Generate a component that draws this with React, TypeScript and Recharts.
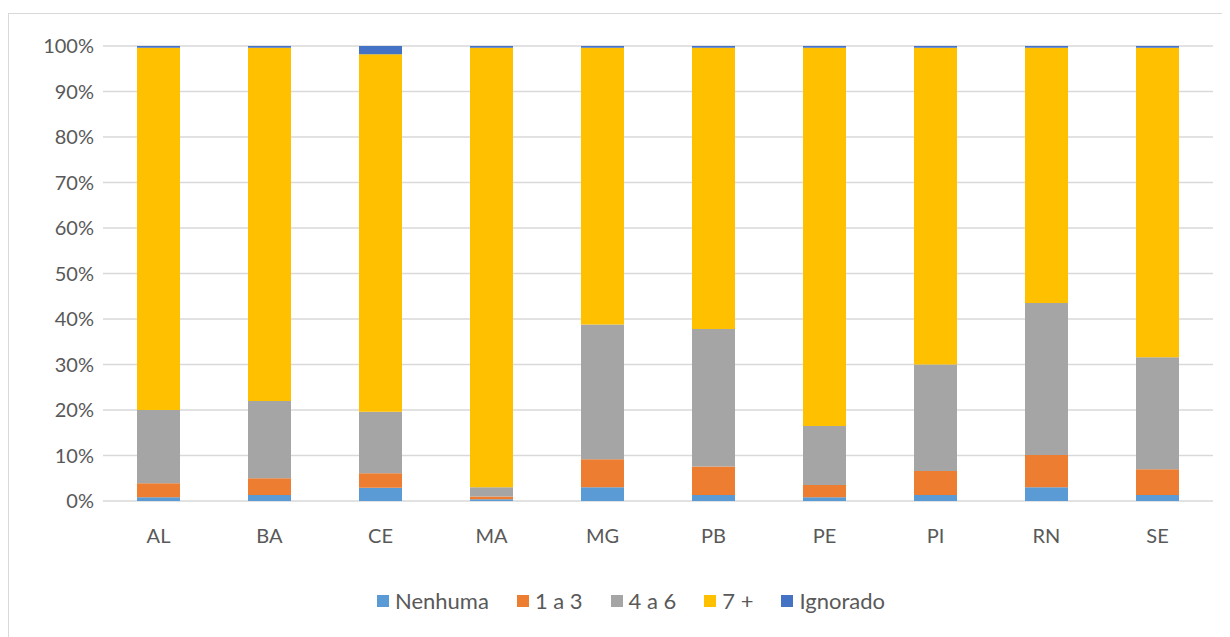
import React from 'react'
import { BarChart, Bar, XAxis, YAxis, CartesianGrid, Legend } from 'recharts'

const states = ['AL', 'BA', 'CE', 'MA', 'MG', 'PB', 'PE', 'PI', 'RN', 'SE']
const nenhuma = [0.8, 1.3, 2.9, 0.4, 3.0, 1.3, 0.8, 1.3, 3.0, 1.3]
const umATres = [3.1, 3.7, 3.2, 0.6, 6.2, 6.3, 2.7, 5.3, 7.1, 5.7]
const quatroASeis = [16.1, 17.0, 13.5, 2.0, 29.6, 30.2, 13.0, 23.4, 33.4, 24.6]
const seteMais = [79.6, 77.6, 78.6, 96.6, 60.8, 61.8, 83.1, 69.6, 56.1, 68.0]
const ignorado = [0.4, 0.4, 1.8, 0.4, 0.4, 0.4, 0.4, 0.4, 0.4, 0.4]
const yTicks = [0, 10, 20, 30, 40, 50, 60, 70, 80, 90, 100]

const series = [
  { key: 'nenhuma', name: 'Nenhuma', color: '#5B9BD5' },
  { key: 'umATres', name: '1 a 3', color: '#ED7D31' },
  { key: 'quatroASeis', name: '4 a 6', color: '#A5A5A5' },
  { key: 'seteMais', name: '7 +', color: '#FFC000' },
  { key: 'ignorado', name: 'Ignorado', color: '#4472C4' },
]

const data = states.map((s, i) => ({
  state: s,
  nenhuma: nenhuma[i],
  umATres: umATres[i],
  quatroASeis: quatroASeis[i],
  seteMais: seteMais[i],
  ignorado: ignorado[i],
}))

const font = 'Lato, "Open Sans", sans-serif'

// legend in series order (recharts sorts by name otherwise)
const LegendContent = () => (
  <div style={{ display: 'flex', justifyContent: 'center', gap: 28, paddingLeft: 40, fontFamily: font, fontSize: 22, color: '#595959' }}>
    {series.map((s) => (
      <div key={s.key} style={{ display: 'flex', alignItems: 'center' }}>
        <span style={{ width: 12, height: 12, background: s.color, display: 'inline-block', marginRight: 6 }} />
        <span>{s.name}</span>
      </div>
    ))}
  </div>
)

const App = () => {
  return (
    <div
      style={{
        width: 1220,
        height: 630,
        marginTop: 5,
        border: '1px solid #d9d9d9',
        background: '#fff',
        fontFamily: font,
      }}
    >
      <BarChart
        width={1220}
        height={630}
        data={data}
        barSize={43}
        margin={{ top: 32, right: 16, left: 0, bottom: 0 }}
      >
        <CartesianGrid vertical={false} stroke="#d9d9d9" strokeWidth={1.5} />
        <XAxis
          dataKey="state"
          axisLine={false}
          tickLine={false}
          height={116}
          tick={{ fill: '#595959', fontSize: 20, fontFamily: font }}
          tickMargin={22}
        />
        <YAxis
          width={94}
          domain={[0, 100]}
          ticks={yTicks}
          axisLine={false}
          tickLine={false}
          interval={0}
          tickFormatter={(v: number) => `${v}%`}
          tick={{ fill: '#595959', fontSize: 20, fontFamily: font }}
          tickMargin={3}
        />
        <Legend verticalAlign="bottom" wrapperStyle={{ bottom: 30 }} content={<LegendContent />} />
        {series.map((s) => (
          <Bar key={s.key} dataKey={s.key} name={s.name} stackId="a" fill={s.color} isAnimationActive={false} />
        ))}
      </BarChart>
    </div>
  )
}

export default App
